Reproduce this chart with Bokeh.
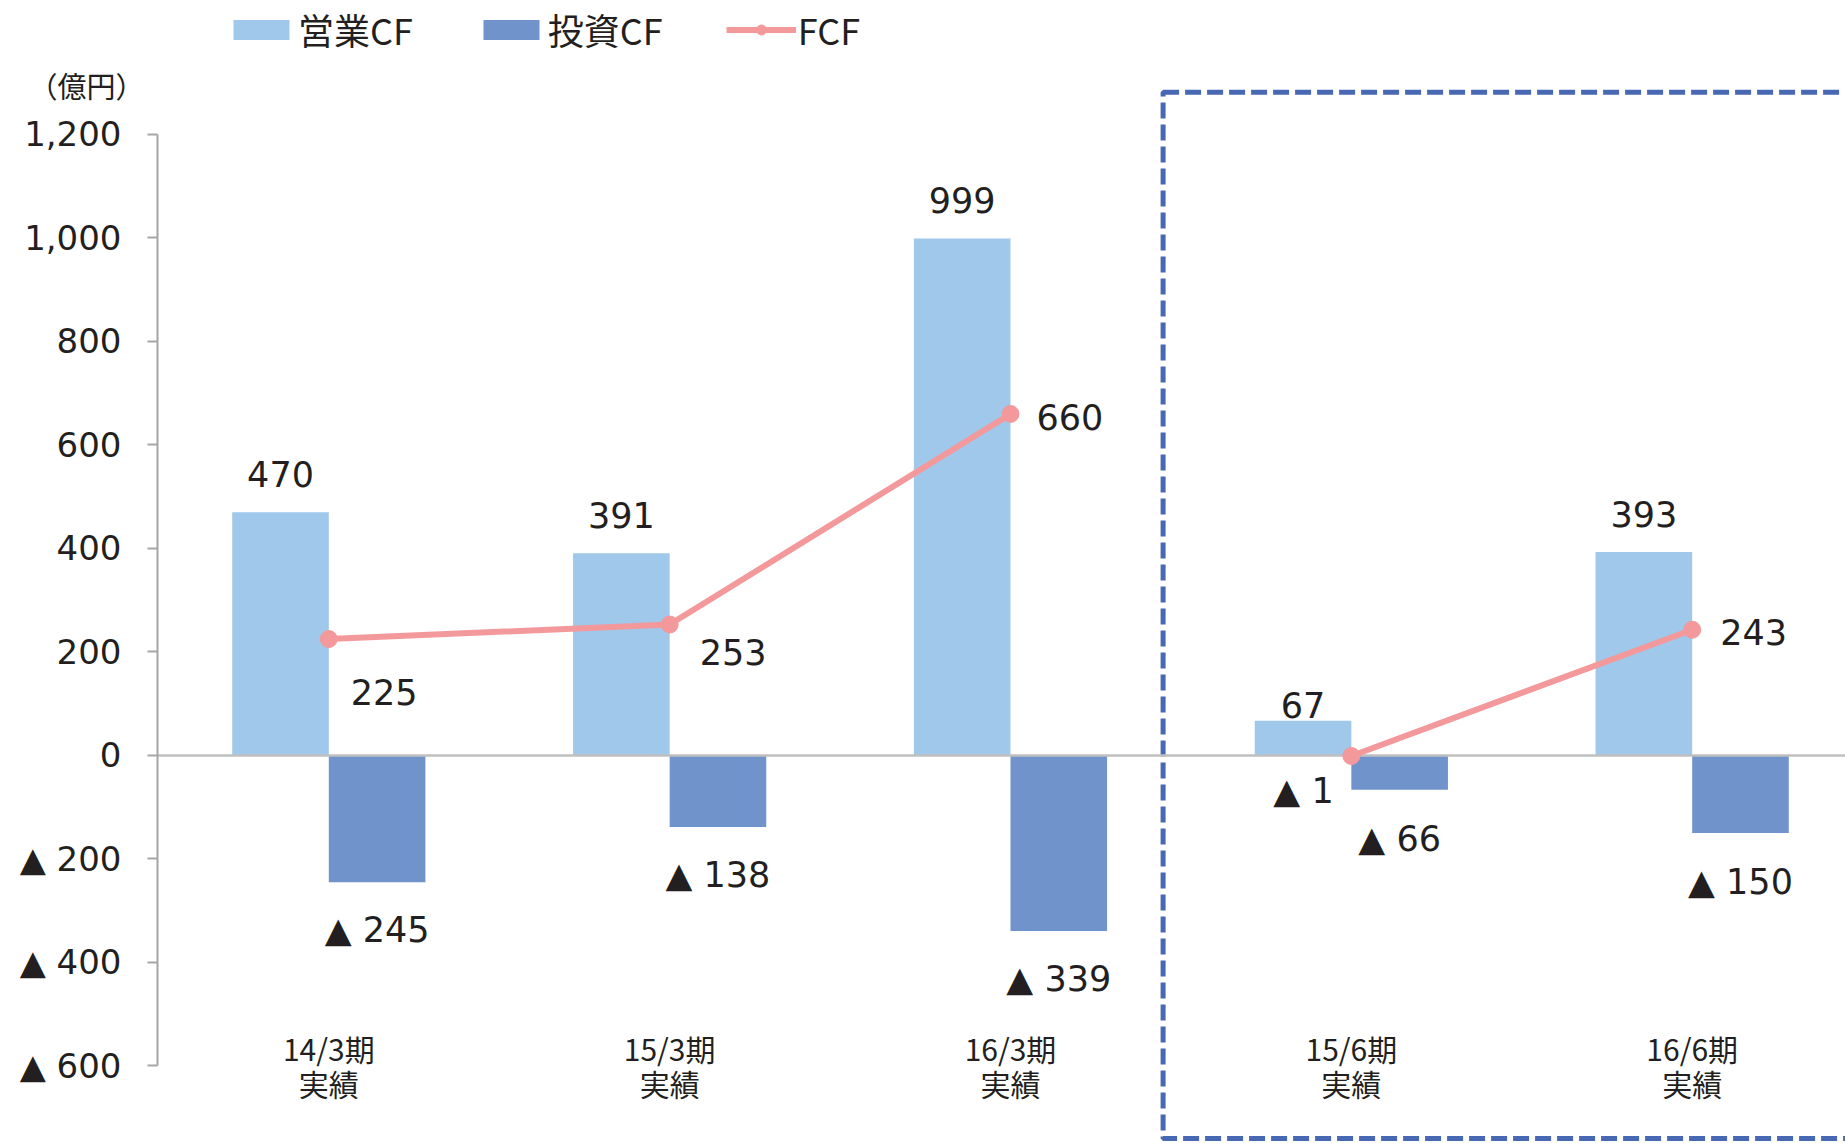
from bokeh.plotting import figure
from bokeh.models import (Range1d, FixedTicker, BoxAnnotation, Legend,
                          LegendItem, ColumnDataSource, LinearAxis)
from bokeh.transform import dodge
from bokeh.core.properties import value
from bokeh.embed import file_html
from bokeh.resources import INLINE

# ---------------- data ----------------
categories = ["14/3期", "15/3期", "16/3期", "15/6期", "16/6期"]
category_sub = ["実績", "実績", "実績", "実績", "実績"]
operating_cf = [470, 391, 999, 67, 393]        # 営業CF
investing_cf = [-245, -138, -339, -66, -150]   # 投資CF
fcf = [225, 253, 660, -1, 243]                 # FCF
annual_idx = [0, 1, 2]        # 通期実績 (line segment 1)
quarter_idx = [3, 4]          # 第1四半期実績 (line segment 2)
y_ticks = [-600, -400, -200, 0, 200, 400, 600, 800, 1000, 1200]
y_tick_labels = ["▲ 600", "▲ 400", "▲ 200", "0", "200", "400", "600",
                 "800", "1,000", "1,200"]
unit_label = "（億円）"

# ---------------- styles ----------------
LIGHT = "#9fc8ea"
DARK = "#7193cb"
PINK = "#f4999b"
TEXT = "#231f20"
AXIS = "#a6a6a6"
BOX = "#4868b4"
NUM_FONT = "DejaVu Sans"
JP_FONT = "Noto Sans CJK JP"
BAR_W = 0.2834
UNIT_Y = 1295          # vertical position of the unit caption (axis units)

# label offsets in screen pixels (styling only)
op_dy = [-38, -38, -38, -16, -38]
inv_dy = [48, 48, 48, 49, 49]
fcf_dx = [22, 30, 26, -78, 28]
fcf_dy = [53, 27, 3, 35, 2]


def fmt(v):
    return f"▲ {abs(v):,}" if v < 0 else f"{v:,}"


xs = list(range(len(categories)))
src = ColumnDataSource(dict(
    x=xs, op=operating_cf, inv=investing_cf, fcf=fcf,
    op_lbl=[fmt(v) for v in operating_cf],
    inv_lbl=[fmt(v) for v in investing_cf],
    fcf_lbl=[fmt(v) for v in fcf],
    op_dy=op_dy, inv_dy=inv_dy, fcf_dx=fcf_dx, fcf_dy=fcf_dy,
    cat=categories, sub=category_sub,
    base=[y_ticks[0]] * len(categories),
))
seg_src = ColumnDataSource(dict(
    xs=[[xs[i] for i in annual_idx], [xs[i] for i in quarter_idx]],
    ys=[[fcf[i] for i in annual_idx], [fcf[i] for i in quarter_idx]],
))

p = figure(width=1845, height=1143, output_backend="svg", toolbar_location=None,
           x_range=Range1d(-0.5026, 4.4498), y_range=Range1d(-749.8, 1458.9),
           x_axis_location=None, min_border_left=157, min_border_right=0,
           min_border_top=0, min_border_bottom=0)
p.outline_line_color = None
p.xgrid.visible = False
p.ygrid.visible = False

# dashed box around the quarterly results
p.add_layout(BoxAnnotation(left=2.4477, right=5.0, top=1281.6, bottom=-739.9,
                           fill_alpha=0, line_color=BOX, line_alpha=1.0,
                           line_width=5, line_dash="16 6", level="underlay"))

r_op = p.vbar(x=dodge("x", -BAR_W / 2, range=p.x_range), top="op", bottom=0,
              width=BAR_W, source=src, fill_color=LIGHT, line_color=None)
r_inv = p.vbar(x=dodge("x", BAR_W / 2, range=p.x_range), top="inv", bottom=0,
               width=BAR_W, source=src, fill_color=DARK, line_color=None)

p.hspan(y=[0], line_color="#bfbfbf", line_width=2.5)

r_line = p.multi_line(xs="xs", ys="ys", source=seg_src, line_color=PINK,
                      line_width=6)
r_pt = p.scatter(x="x", y="fcf", source=src, size=17, fill_color=PINK,
                 line_color=PINK)

# data labels
p.text(x=dodge("x", -BAR_W / 2, range=p.x_range), y="op", text="op_lbl",
       y_offset="op_dy", source=src, text_align="center",
       text_baseline="middle", text_font=value(NUM_FONT),
       text_font_size="35px", text_color=TEXT)
p.text(x=dodge("x", BAR_W / 2, range=p.x_range), y="inv", text="inv_lbl",
       y_offset="inv_dy", source=src, text_align="center",
       text_baseline="middle", text_font=value(NUM_FONT),
       text_font_size="35px", text_color=TEXT)
p.text(x="x", y="fcf", text="fcf_lbl", x_offset="fcf_dx", y_offset="fcf_dy",
       source=src, text_align="left", text_baseline="middle",
       text_font=value(NUM_FONT), text_font_size="35px", text_color=TEXT)

# category labels (two lines)
p.text(x="x", y="base", text="cat", y_offset=-18, source=src,
       text_align="center", text_baseline="middle", text_font=value(JP_FONT),
       text_font_size="30px", text_color=TEXT)
p.text(x="x", y="base", text="sub", y_offset=17, source=src,
       text_align="center", text_baseline="middle", text_font=value(JP_FONT),
       text_font_size="30px", text_color=TEXT)

# y axis
ax = p.yaxis[0]
ax.ticker = FixedTicker(ticks=y_ticks)
ax.major_label_overrides = {t: l for t, l in zip(y_ticks, y_tick_labels)}
ax.bounds = (y_ticks[0], y_ticks[-1])
ax.axis_line_color = AXIS
ax.axis_line_width = 2
ax.major_tick_line_color = AXIS
ax.major_tick_line_width = 2
ax.major_tick_out = 10
ax.major_tick_in = 0
ax.minor_tick_line_color = None
ax.major_label_standoff = 26
ax.major_label_text_font = NUM_FONT
ax.major_label_text_font_size = "34px"
ax.major_label_text_color = TEXT

# unit caption: an outer, line-less axis carrying a single label
unit_axis = LinearAxis(ticker=FixedTicker(ticks=[UNIT_Y]),
                       major_label_overrides={UNIT_Y: "\u3000" + unit_label},
                       axis_line_color=None, major_tick_line_color=None,
                       minor_tick_line_color=None, major_tick_out=0,
                       major_tick_in=0, major_label_standoff=-128,
                       major_label_text_font=JP_FONT,
                       major_label_text_font_size="29px",
                       major_label_text_color=TEXT)
p.add_layout(unit_axis, "left")

legend = Legend(items=[LegendItem(label="営業CF", renderers=[r_op]),
                       LegendItem(label="投資CF", renderers=[r_inv]),
                       LegendItem(label="FCF", renderers=[r_line, r_pt])],
                orientation="horizontal", location=(69, 1088),
                glyph_width=70, glyph_height=25, label_standoff=2, spacing=63,
                padding=0, margin=0, border_line_color=None,
                background_fill_alpha=0, label_text_font=JP_FONT,
                label_text_font_size="36px", label_text_color=TEXT)
p.add_layout(legend)

open("out.html", "w").write(file_html(p, INLINE))
